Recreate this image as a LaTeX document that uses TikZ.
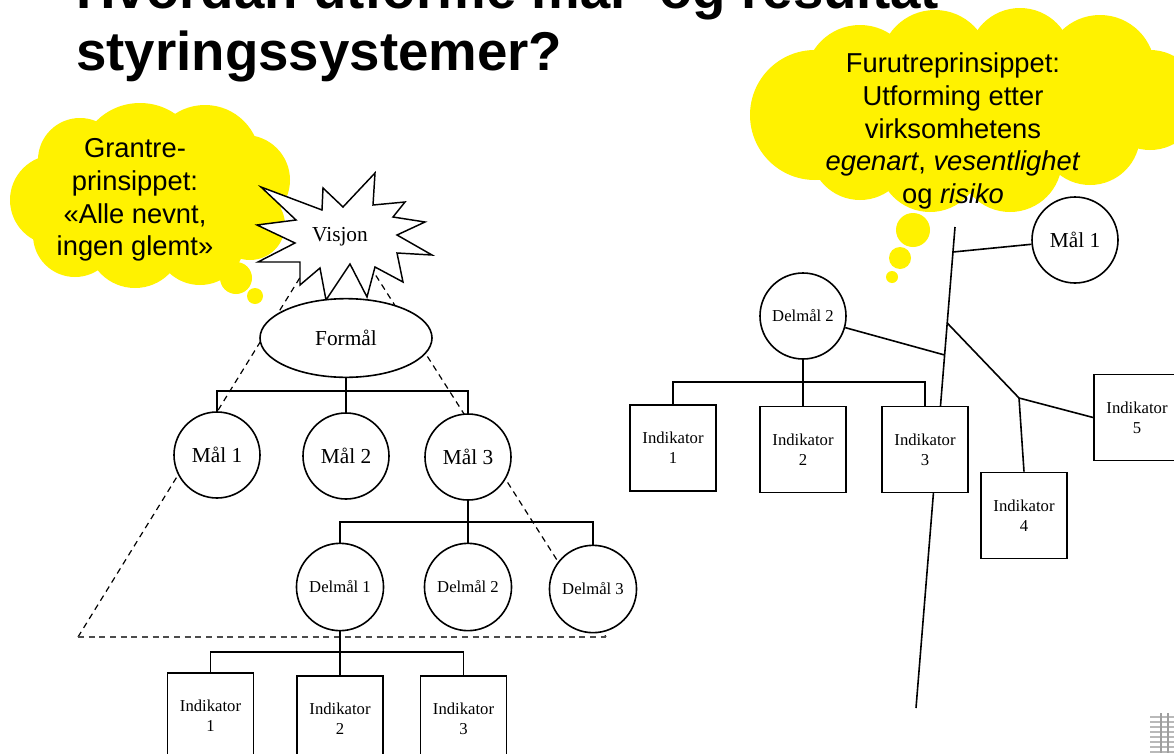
\documentclass[tikz,border=0pt]{standalone}
\usepackage{fontspec}
\setmainfont{Liberation Serif}
\newfontfamily\arialfont{Liberation Sans}
\usetikzlibrary{shapes.geometric}
\pgfdeclarelayer{back}
\pgfsetlayers{back,main}
\begin{document}
\begin{tikzpicture}[x=0.75pt,y=-0.75pt,
  ln/.style={line width=1.2pt},
  circ/.style={circle, draw, fill=white, line width=1.2pt, minimum size=64.5pt, inner sep=0pt, font=\fontsize{16}{18}\selectfont},
  dcirc/.style={ellipse, draw, fill=white, line width=1.2pt, minimum width=65pt, minimum height=65.5pt, inner sep=0pt, font=\fontsize{12.5}{15}\selectfont},
  indbox/.style={rectangle, draw, fill=white, line width=1.3pt, minimum width=64.5pt, minimum height=64.5pt, inner sep=0pt, align=center, font=\fontsize{12.5}{15}\selectfont},
  cloudtext/.style={align=center, font=\arialfont\fontsize{20.5}{24.5}\selectfont},
  dashline/.style={line width=0.9pt, dash pattern=on 4.5pt off 3.5pt},
  titletext/.style={anchor=base west, inner sep=0pt, font=\arialfont\bfseries\fontsize{41}{49}\selectfont}
]
\useasboundingbox (0,0) rectangle (1174,753);
\clip (0,0) rectangle (1174,753);

% ---------- nodes (main layer) ----------
\node[titletext] (title1) at (76,8) {Hvordan utforme mål- og resultat};
\node[titletext] (title2) at (76,70) {styringssystemer?};

\node[cloudtext] (cloudL) at (135,200) {Grantre-\\prinsippet:\\«Alle nevnt,\\ingen glemt»};
\node[cloudtext] (cloudR) at (953,131) {Furutreprinsippet:\\Utforming etter\\virksomhetens\\\textit{egenart}, \textit{vesentlighet}\\og \textit{risiko}};

\node[inner sep=0pt, font=\fontsize{16}{18}\selectfont] (visjon) at (340,237) {Visjon};
\node[ellipse, draw, fill=white, line width=1.2pt, minimum width=129pt, minimum height=59pt, inner sep=0pt, font=\fontsize{16}{18}\selectfont] (formal) at (346,338) {Formål};

\node[circ] (m1) at (217,455) {Mål 1};
\node[circ] (m2) at (346,456) {Mål 2};
\node[circ] (m3) at (468,457) {Mål 3};

\node[dcirc] (d1) at (340,587) {Delmål 1};
\node[dcirc] (d2) at (468,587) {Delmål 2};
\node[dcirc] (d3) at (593,589) {Delmål 3};

\node[indbox] (i1) at (210.5,716) {Indikator\\1};
\node[indbox] (i2) at (340,719) {Indikator\\2};
\node[indbox] (i3) at (463.5,719) {Indikator\\3};

% right tree
\node[circ, font=\fontsize{12.5}{15}\selectfont] (rd2) at (803,316) {Delmål 2};
\node[circ] (rm1) at (1075,240) {Mål 1};
\node[indbox] (ri1) at (673,448) {Indikator\\1};
\node[indbox] (ri2) at (803,449.5) {Indikator\\2};
\node[indbox] (ri3) at (925,449.5) {Indikator\\3};
\node[indbox] (ri4) at (1024,515.5) {Indikator\\4};
\node[indbox] (ri5) at (1137,417.5) {Indikator\\5};

\coordinate (ttop) at (955,227);
\coordinate (tbot) at (916,708);
\coordinate (bm1) at (953,252);
\coordinate (bd2) at (944.6,355);
\coordinate (bup) at (947.2,323);
\coordinate (bj) at (1019,398);
\coordinate (apex) at (338,216);
\coordinate (bl) at (78,637);
\coordinate (br) at (606,637);
\coordinate (lbar) at (0,391);
\coordinate (dbar) at (0,522);
\coordinate (ibar) at (0,652);
\coordinate (rbar) at (0,382);

\begin{pgfonlayer}{back}
  \fill[white] (0,0) rectangle (1174,753);
  % left cloud
  \begin{scope}[fill=yellow]
    \fill (150,200) ellipse [x radius=100, y radius=70];
    \fill (140,165) circle (62);
    \fill (205,160) circle (55);
    \fill (245,180) circle (45);
    \fill (250,225) circle (35);
    \fill (200,240) circle (45);
    \fill (135,240) circle (48);
    \fill (75,235) circle (42);
    \fill (55,200) circle (45);
    \fill (80,160) circle (42);
    \fill (236,278) circle (16);
    \fill (255,296) circle (8);
  % right cloud
    \fill (960,115) ellipse [x radius=150, y radius=70];
    \fill (815,115) circle (65);
    \fill (860,80) circle (55);
    \fill (935,65) circle (55);
    \fill (1020,60) circle (52);
    \fill (1100,70) circle (55);
    \fill (1150,100) circle (50);
    \fill (1090,135) circle (50);
    \fill (1010,160) circle (52);
    \fill (930,160) circle (52);
    \fill (860,150) circle (50);
    \fill (913,230) circle (17);
    \fill (900,258) circle (11);
    \fill (892,277) circle (6);
  \end{scope}
  % dashed triangle
  \draw[dashline] (bl) -- (apex) -- (br);
  \draw[dashline, line width=1.6pt, black!70] (bl) -- (br);
  % star
  \draw[fill=white, line width=1.1pt, line join=miter]
    (261,187) -- (322,210) -- (323,188) -- (343,207) -- (375,173) -- (373,205)
    -- (405,202) -- (393,217) -- (425,222) -- (397,235) -- (432,255) -- (397,253)
    -- (403,282) -- (375,267) -- (367,297) -- (350,264) -- (326,300) -- (320,268)
    -- (300,285) -- (300,262) -- (258,262) -- (295,243) -- (257,225) -- (296,220) -- cycle;
  % left tree connectors
  \draw[ln] (formal) -- (m2);
  \draw[ln] (m1.north) |- (lbar -| m3.north) -- (m3.north);
  \draw[ln] (m3) -- (d2);
  \draw[ln] (d1.north) |- (dbar -| d3.north) -- (d3.north);
  \draw[ln] (d1) -- (i2);
  \draw[ln] (i1.north) |- (ibar -| i3.north) -- (i3.north);
  % right tree connectors
  \draw[ln] (ttop) -- (tbot);
  \draw[ln] (bm1) -- (rm1);
  \draw[ln] (rd2) -- (bd2);
  \draw[ln] (bup) -- (bj) -- (ri5.west);
  \draw[ln] (bj) -- (ri4.north);
  \draw[ln] (rd2) -- (ri2);
  \draw[ln] (ri1.north) |- (rbar -| ri3.north) -- (ri3.north);
  % logo fragment
  \foreach \yy in {717,722,727,732,737,742,747,752}
    \draw[gray!55, line width=0.8pt] (1150,\yy) -- (1174,\yy);
  \draw[gray!75, line width=1.8pt] (1161,713) -- (1161,753);
  \draw[gray!75, line width=1.8pt] (1168,713) -- (1168,753);
\end{pgfonlayer}
\end{tikzpicture}
\end{document}
